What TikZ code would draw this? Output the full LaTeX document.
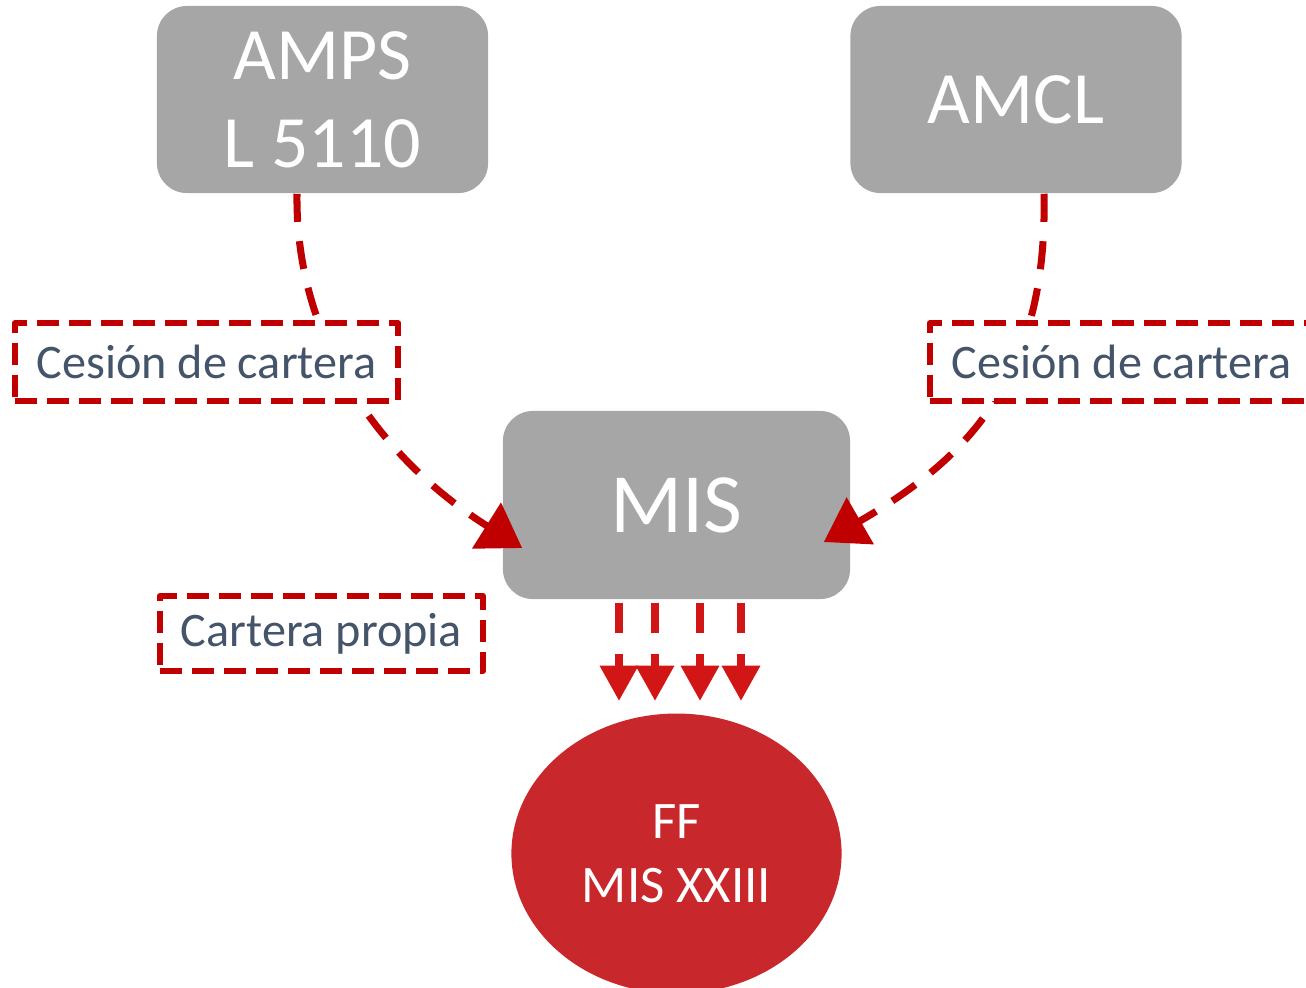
\documentclass[tikz,border=0pt]{standalone}
\usepackage{fontspec}
\setmainfont{Carlito}
\usetikzlibrary{shapes,arrows.meta,positioning}

\definecolor{boxgray}{HTML}{A6A6A6}
\definecolor{dashred}{HTML}{C00000}
\definecolor{brightred}{HTML}{D21616}
\definecolor{ffred}{HTML}{C8282B}
\definecolor{slate}{HTML}{44546A}

\begin{document}
\begin{tikzpicture}[x=0.01cm, y=-0.01cm, node distance=1.13cm]
  \tikzset{
    block/.style={fill=boxgray, rounded corners=0.3cm, text=white, align=center,
      inner sep=0pt, minimum width=3.31cm, minimum height=1.87cm},
    tag/.style={draw=dashred, fill=white, line width=1.7pt, line join=round,
      dash pattern=on 6.3pt off 2.8pt, text=slate, inner sep=0pt,
      minimum width=3.83cm, minimum height=0.78cm, font=\fontsize{13.7}{16}\selectfont},
    fund/.style={ellipse, fill=ffred, text=white, align=center, inner sep=0pt,
      minimum width=3.3cm, minimum height=2.8cm, font=\fontsize{15}{18}\selectfont},
    cesionarrow/.style={-{Triangle[length=12pt, width=15pt]}, draw=dashred,
      line width=2pt, dash pattern=on 8pt off 5.5pt},
    flowarrow/.style={-{Triangle[length=10pt, width=10.5pt]}, draw=brightred,
      line width=2pt, dash pattern=on 8.5pt off 6pt},
  }
  \useasboundingbox (0,0) rectangle (1306,987);

  \node[block, font=\fontsize{21}{25}\selectfont] (amps) at (322.5,99.5) {AMPS\\L 5110};
  \node[block, font=\fontsize{21}{25}\selectfont] (amcl) at (1016,99.5) {AMCL};
  \node[block, minimum width=3.47cm, minimum height=1.88cm,
    font=\fontsize{24}{28}\selectfont] (mis) at (676.5,505) {MIS};
  \node[fund] (ff) [below=of mis] {FF\\MIS XXIII};

  % cesion de cartera
  \draw[cesionarrow] ([shift={(-25.5,0)}]amps.south) .. controls (295,350) and (390,465)
    .. ([shift={(20,43)}]mis.west);
  \draw[cesionarrow] ([shift={(28,0)}]amcl.south) .. controls (1048,380) and (965,460)
    .. ([shift={(-27,37)}]mis.east);

  \node[tag] (cesion1) at (206.5,362) {Cesión de cartera};
  \node[tag] (cesion2) at (1121.5,362) {Cesión de cartera};
  \node[tag, minimum width=3.23cm, minimum height=0.75cm] (propia) at (321.5,633.5) {Cartera propia};

  % cartera propia hacia el fondo
  \foreach \dx in {-57.5,-21.5,23.5,64.5}
    \draw[flowarrow] ([shift={(\dx,3)}]mis.south) -- ([shift={(\dx,-12)}]ff.north);

\end{tikzpicture}
\end{document}
